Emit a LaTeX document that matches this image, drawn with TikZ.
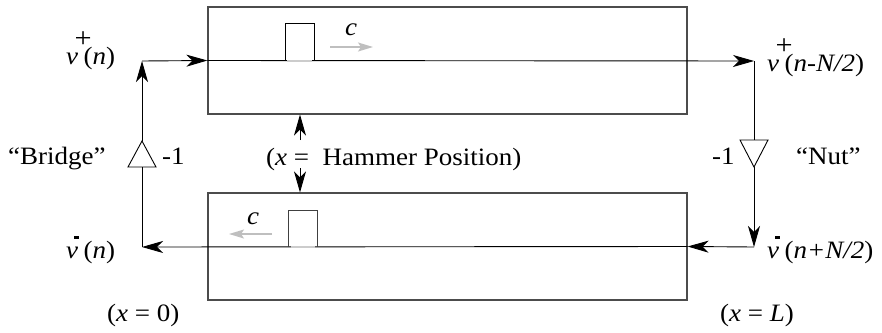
\documentclass[tikz,border=0pt]{standalone}
\usepackage{fontspec}
\setmainfont{Liberation Serif}[FakeStretch=1.08]
\usetikzlibrary{arrows.meta}
\newcommand{\vplus}{\textit{v}\rlap{\kern-0.14em\raisebox{0.68em}{\fontsize{28}{28}\selectfont +}}\kern0.22em}
\newcommand{\vminus}{\textit{v}\rlap{\kern-0.16em\raisebox{0.78em}{\rule{5pt}{2.2pt}}}\kern0.22em}
\begin{document}
\begin{tikzpicture}[x=1pt,y=-1pt,
  lbl/.style={inner sep=0pt,font=\fontsize{25}{29}\selectfont},
  boxstyle/.style={draw=black!70,line width=1.2pt,minimum width=479pt,minimum height=107pt,inner sep=0pt},
  sig/.style={line width=0.9pt,-{Stealth[length=21pt,width=12pt,inset=6pt]}},
  wire/.style={line width=0.9pt},
  grayarrow/.style={draw=black!25,line width=1.6pt,-{Stealth[length=15pt,width=9pt,inset=3pt]}},
  graybase/.style={draw=black!20,line width=2pt},
  tri/.style={draw=black,line width=0.9pt,fill=white}]
\useasboundingbox (0,0) rectangle (882,332);

% boxes
\node[boxstyle] (tbox) at (447.5,60.5) {};
\node[boxstyle] (bbox) at (447.5,246.5) {};

% corner coordinates
\coordinate (tl) at (142,61);
\coordinate (tr) at (754,61);
\coordinate (bl) at (142,247);
\coordinate (br) at (754,247);

% triangles
\coordinate (bapex) at (142,141);
\coordinate (bbase) at (142,167);
\draw[tri] (128,167) -- (bapex) -- (156,167) -- cycle;
\coordinate (ntop) at (754,140);
\coordinate (napex) at (754,167);
\draw[tri] (740,140) -- (768,140) -- (napex) -- cycle;

% signal paths
\draw[sig] (tl) -- (tbox.west);
\draw[sig] (tbox.west) -- (tr);
\draw[wire] (tr) -- (ntop);
\draw[sig] (napex) -- (br);
\draw[sig] (br) -- (bbox.east);
\draw[sig] (bbox.east) -- (bl);
\draw[wire] (bl) -- (bbase);
\draw[sig] (bapex) -- (tl);

% hammers
\draw[line width=1pt] (285,61) -- (285,23) -- (314,23) -- (314,61);
\draw[graybase] (287,61) -- (312,61);
\draw[line width=1pt,draw=black!75] (288,247) -- (288,210) -- (317,210) -- (317,247);
\draw[graybase] (291,247) -- (315,247);

% gray wave arrows
\coordinate (ga1s) at (330,47);
\coordinate (ga1e) at (373,47);
\draw[grayarrow] (ga1s) -- (ga1e);
\coordinate (ga2s) at (272,234);
\coordinate (ga2e) at (229,234);
\draw[grayarrow] (ga2s) -- (ga2e);
\node[lbl,anchor=base] (c1) at (351,35) {\textit{c}};
\node[lbl,anchor=base] (c2) at (253,224) {\textit{c}};

% hammer position arrows
\coordinate (hp1) at (300,140);
\coordinate (hp2) at (300,168);
\draw[sig] (hp1) -- (tbox.south -| hp1);
\draw[sig] (hp2) -- (bbox.north -| hp2);
\node[lbl,anchor=base west] (hpos) at (266,165) {(\textit{x} =\ \ Hammer Position)};

% labels
\node[lbl,anchor=base west] (vpn) at (66,64) {\vplus(\textit{n})};
\node[lbl,anchor=base west] (vpnN) at (767,71) {\vplus(\textit{n-N/2})};
\node[lbl,anchor=base west] (vmn) at (66,258) {\vminus(\textit{n})};
\node[lbl,anchor=base west] (vmnN) at (767,258) {\vminus(\textit{n+N/2})};
\node[lbl,anchor=base west] (bridge) at (8,164) {“Bridge”};
\node[lbl,anchor=base west] (m1l) at (162,164) {-1};
\node[lbl,anchor=base west] (m1r) at (712,164) {-1};
\node[lbl,anchor=base west] (nut) at (796,164) {“Nut”};
\node[lbl,anchor=base west] (x0) at (107,321) {(\textit{x} = 0)};
\node[lbl,anchor=base west] (xL) at (720,321) {(\textit{x} = \textit{L})};
\end{tikzpicture}
\end{document}
